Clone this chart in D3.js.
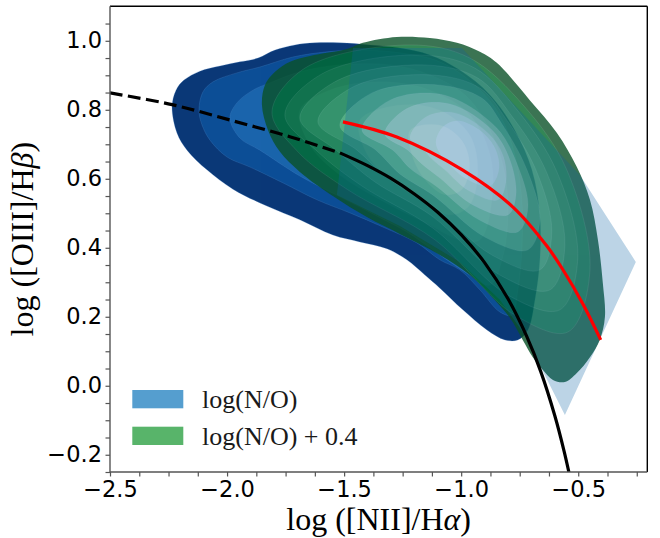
<!DOCTYPE html>
<html><head><meta charset="utf-8">
<script src="https://cdn.jsdelivr.net/npm/d3@7"></script>
<style>
html,body{margin:0;padding:0;background:#fff;}
svg{display:block;}
</style></head>
<body><svg id="chart" width="660" height="538"></svg>
<script>
// ---------- data ----------
const xTicks = [-2.5, -2.0, -1.5, -1.0, -0.5];
const xTickLabels = ["\u22122.5", "\u22122.0", "\u22121.5", "\u22121.0", "\u22120.5"];
const yTicks = [-0.2, 0.0, 0.2, 0.4, 0.6, 0.8, 1.0];
const yTickLabels = ["\u22120.2", "0.0", "0.2", "0.4", "0.6", "0.8", "1.0"];
const xMinor = [-2.375, -2.25, -2.125, -1.875, -1.75, -1.625, -1.375, -1.25, -1.125, -0.875, -0.75, -0.625, -0.375, -0.25];
const yMinor = [-0.25, -0.15, -0.1, -0.05, 0.05, 0.1, 0.15, 0.25, 0.3, 0.35, 0.45, 0.5, 0.55, 0.65, 0.7, 0.75, 0.85, 0.9, 0.95, 1.05];
const xDomain = [-2.5, -0.205];
const yDomain = [-0.25, 1.1];

const legendLabels = ["log(N/O)", "log(N/O) + 0.4"];

// demarcation curve (dashed part and solid part)
const demarcDashX = [-2.5, -2.235, -1.975, -1.732, -1.518];
const demarcDashY = [0.849, 0.815, 0.768, 0.722, 0.675];
const demarcSolidX = [-1.518, -1.40, -1.30, -1.20, -1.10, -1.00, -0.90, -0.80, -0.72, -0.66, -0.60, -0.56, -0.527];
const demarcSolidY = [0.675, 0.638, 0.601, 0.556, 0.503, 0.438, 0.357, 0.252, 0.143, 0.041, -0.087, -0.191, -0.291];

// red model track
const trackX = [-1.505, -1.275, -0.993, -0.779, -0.634, -0.566, -0.480, -0.404];
const trackY = [0.765, 0.721, 0.625, 0.518, 0.405, 0.337, 0.237, 0.133];

// density contours of log(N/O) (outer -> inner)
const blueLevels = [
  [[-2.235,0.808],[-2.218,0.857],[-2.184,0.886],[-2.116,0.912],[-2.030,0.927],[-1.945,0.939],[-1.868,0.950],[-1.795,0.973],[-1.710,0.988],[-1.625,0.994],[-1.518,0.994],[-1.390,0.988],[-1.262,0.979],[-1.134,0.959],[-1.006,0.915],[-0.877,0.843],[-0.771,0.741],[-0.698,0.626],[-0.664,0.495],[-0.664,0.365],[-0.685,0.249],[-0.715,0.162],[-0.758,0.133],[-0.813,0.133],[-0.890,0.162],[-0.993,0.220],[-1.091,0.283],[-1.155,0.321],[-1.232,0.365],[-1.317,0.397],[-1.433,0.417],[-1.548,0.437],[-1.689,0.481],[-1.830,0.521],[-1.975,0.570],[-2.086,0.626],[-2.171,0.683],[-2.214,0.733]],
  [[-2.120,0.799],[-2.103,0.852],[-2.060,0.881],[-1.958,0.907],[-1.860,0.924],[-1.719,0.953],[-1.573,0.968],[-1.433,0.973],[-1.262,0.965],[-1.091,0.939],[-0.942,0.872],[-0.835,0.785],[-0.771,0.669],[-0.741,0.539],[-0.741,0.394],[-0.758,0.278],[-0.784,0.205],[-0.835,0.214],[-0.920,0.278],[-1.006,0.336],[-1.091,0.365],[-1.189,0.414],[-1.334,0.460],[-1.475,0.501],[-1.616,0.539],[-1.761,0.588],[-1.902,0.634],[-2.000,0.663],[-2.073,0.712],[-2.107,0.756]],
  [[-1.988,0.776],[-1.958,0.820],[-1.889,0.857],[-1.817,0.878],[-1.689,0.910],[-1.518,0.930],[-1.304,0.930],[-1.134,0.901],[-0.984,0.843],[-0.877,0.741],[-0.813,0.611],[-0.801,0.481],[-0.826,0.365],[-0.877,0.292],[-0.963,0.321],[-1.048,0.359],[-1.121,0.394],[-1.232,0.446],[-1.334,0.483],[-1.475,0.533],[-1.689,0.608],[-1.860,0.683],[-1.945,0.718]],
  [[-1.689,0.799],[-1.561,0.857],[-1.347,0.881],[-1.134,0.857],[-0.963,0.785],[-0.877,0.669],[-0.869,0.539],[-0.920,0.423],[-1.006,0.423],[-1.134,0.466],[-1.304,0.524],[-1.518,0.611],[-1.646,0.698]],
  [[-1.433,0.770],[-1.262,0.814],[-1.091,0.799],[-0.963,0.727],[-0.929,0.626],[-0.963,0.524],[-1.048,0.495],[-1.176,0.539],[-1.326,0.611],[-1.411,0.683]],
  [[-1.219,0.741],[-1.091,0.756],[-0.997,0.712],[-0.963,0.640],[-0.997,0.568],[-1.070,0.553],[-1.155,0.597],[-1.211,0.669]]
];

// density contours of log(N/O) + 0.4 (outer -> inner)
const greenLevels = [
  [[-1.851,0.814],[-1.838,0.872],[-1.795,0.910],[-1.731,0.939],[-1.646,0.956],[-1.488,0.976],[-1.420,0.994],[-1.275,1.011],[-1.134,1.008],[-1.018,0.994],[-0.920,0.968],[-0.848,0.936],[-0.707,0.828],[-0.591,0.733],[-0.506,0.634],[-0.450,0.539],[-0.416,0.423],[-0.395,0.298],[-0.386,0.199],[-0.408,0.133],[-0.450,0.083],[-0.506,0.037],[-0.557,0.011],[-0.608,0.017],[-0.651,0.046],[-0.694,0.083],[-0.737,0.133],[-0.792,0.197],[-0.877,0.263],[-0.963,0.321],[-1.091,0.379],[-1.262,0.440],[-1.403,0.489],[-1.548,0.550],[-1.689,0.620],[-1.774,0.678],[-1.825,0.741]],
  [[-1.808,0.794],[-1.667,0.921],[-1.219,0.988],[-0.963,0.950],[-0.732,0.811],[-0.549,0.626],[-0.450,0.336],[-0.544,0.156],[-0.771,0.205],[-1.112,0.423],[-1.484,0.568],[-1.697,0.678]],
  [[-1.753,0.785],[-1.595,0.904],[-1.185,0.959],[-0.942,0.921],[-0.758,0.797],[-0.591,0.620],[-0.502,0.370],[-0.579,0.220],[-0.801,0.263],[-1.121,0.457],[-1.424,0.579],[-1.612,0.678]],
  [[-1.689,0.776],[-1.526,0.886],[-1.155,0.930],[-0.929,0.892],[-0.784,0.782],[-0.634,0.617],[-0.557,0.408],[-0.621,0.278],[-0.835,0.321],[-1.125,0.492],[-1.369,0.591],[-1.531,0.681]],
  [[-1.612,0.765],[-1.454,0.869],[-1.125,0.901],[-0.920,0.863],[-0.805,0.770],[-0.677,0.620],[-0.613,0.446],[-0.664,0.336],[-0.869,0.379],[-1.125,0.524],[-1.313,0.602],[-1.445,0.683]],
  [[-1.518,0.753],[-1.381,0.849],[-1.100,0.872],[-0.912,0.834],[-0.826,0.759],[-0.719,0.626],[-0.664,0.481],[-0.715,0.394],[-0.899,0.431],[-1.121,0.553],[-1.262,0.614],[-1.364,0.683]],
  [[-1.424,0.741],[-1.304,0.828],[-1.074,0.843],[-0.848,0.747],[-0.758,0.637],[-0.715,0.518],[-0.758,0.446],[-0.924,0.481],[-1.108,0.579],[-1.215,0.628],[-1.292,0.683]],
  [[-1.326,0.730],[-1.228,0.805],[-1.048,0.817],[-0.865,0.739],[-0.792,0.655],[-0.766,0.553],[-0.801,0.495],[-0.950,0.524],[-1.091,0.602],[-1.168,0.643],[-1.228,0.683]],
  [[-1.219,0.718],[-1.151,0.779],[-1.027,0.791],[-0.886,0.733],[-0.822,0.669],[-0.809,0.591],[-0.843,0.539],[-0.967,0.565],[-1.070,0.626],[-1.125,0.657],[-1.164,0.686]],
  [[-1.108,0.707],[-1.078,0.750],[-1.014,0.768],[-0.912,0.736],[-0.852,0.683],[-0.839,0.626],[-0.877,0.579],[-0.984,0.602],[-1.048,0.640],[-1.087,0.669]]
];

// model grid hull (translucent)
const gridHull = [[-1.462,0.979],[-0.997,0.979],[-0.493,0.611],[-0.254,0.359],[-0.557,-0.085],[-0.643,0.031],[-0.728,0.147],[-0.835,0.249],[-1.006,0.359],[-1.262,0.463],[-1.531,0.553]];

// ---------- styles ----------
const blueColors = ["#0a3877", "#0c4e96", "#1a64ac", "#3080c0", "#5f9fd3", "#a5c9e8"];
const greenColors = ["#0a5228", "#00692c", "#0f7637", "#238746", "#379858", "#5fb973", "#91d296", "#bfe5bb", "#dcf0d7", "#f0f8f0"];
const hullColor = "#1065a6";
const legendColors = ["#559ecf", "#58b46a"];

// ---------- drawing ----------
const svg = d3.select("#chart");
const L = 110, R = 647.3, T = 6.3, B = 472;
const x = d3.scaleLinear().domain(xDomain).range([L, R]);
const y = d3.scaleLinear().domain(yDomain).range([B, T]);

svg.append("defs").append("clipPath").attr("id", "clip")
  .append("rect").attr("x", L).attr("y", T).attr("width", R - L).attr("height", B - T);

const plot = svg.append("g").attr("clip-path", "url(#clip)");
const smooth = d3.line().x(d => x(d[0])).y(d => y(d[1])).curve(d3.curveCatmullRomClosed.alpha(0.5));
const straight = d3.line().x(d => x(d[0])).y(d => y(d[1])).curve(d3.curveLinearClosed);
const open = d3.line().x(d => x(d[0])).y(d => y(d[1])).curve(d3.curveCatmullRom.alpha(0.5));

plot.append("g").selectAll("path").data(blueLevels).join("path")
  .attr("d", smooth).attr("fill", (d, i) => blueColors[i])
  .attr("stroke", "#5a8fd0").attr("stroke-width", 0.4).attr("stroke-opacity", 0.6);

plot.append("g").attr("opacity", 0.8).selectAll("path").data(greenLevels).join("path")
  .attr("d", smooth).attr("fill", (d, i) => greenColors[i])
  .attr("stroke", "#ffffff").attr("stroke-width", 0.4).attr("stroke-opacity", (d, i) => i === 0 ? 0 : 0.25);

plot.append("g").attr("opacity", 0.28).append("path")
  .attr("d", straight(gridHull)).attr("fill", hullColor);

const dashPts = demarcDashX.map((v, i) => [v, demarcDashY[i]]);
const solidPts = demarcSolidX.map((v, i) => [v, demarcSolidY[i]]);
const trackPts = trackX.map((v, i) => [v, trackY[i]]);

plot.append("path").attr("d", open(dashPts)).attr("fill", "none")
  .attr("stroke", "#000").attr("stroke-width", 3.2).attr("stroke-dasharray", "12.8,5.5");
plot.append("path").attr("d", open(solidPts)).attr("fill", "none")
  .attr("stroke", "#000").attr("stroke-width", 3.2);
plot.append("path").attr("d", open(trackPts)).attr("fill", "none")
  .attr("stroke", "#ff0000").attr("stroke-width", 3.2);

// axes
const tickColor = "#555";
const xAxis = d3.axisBottom(x).tickValues(xTicks).tickFormat((d, i) => xTickLabels[i]).tickSize(4.5).tickPadding(5).tickSizeOuter(0);
const xAxisMinor = d3.axisBottom(x).tickValues(xMinor).tickFormat("").tickSize(4.5).tickSizeOuter(0);
const yAxis = d3.axisLeft(y).tickValues(yTicks).tickFormat((d, i) => yTickLabels[i]).tickSize(4.5).tickPadding(3.5).tickSizeOuter(0);
const yAxisMinor = d3.axisLeft(y).tickValues(yMinor).tickFormat("").tickSize(4.5).tickSizeOuter(0);

function styleAxis(g) {
  g.select(".domain").remove();
  g.selectAll("line").attr("stroke", tickColor).attr("stroke-width", 1.2);
  g.selectAll("text").attr("fill", "#000").style("font-family", "'DejaVu Sans', sans-serif").style("font-size", "22.5px");
}
svg.append("g").attr("transform", `translate(0,${B})`).call(xAxisMinor).call(styleAxis);
svg.append("g").attr("transform", `translate(0,${B})`).call(xAxis).call(styleAxis);
svg.append("g").attr("transform", `translate(${L},0)`).call(yAxisMinor).call(styleAxis);
svg.append("g").attr("transform", `translate(${L},0)`).call(yAxis).call(styleAxis);

// spines
svg.append("line").attr("x1", L).attr("x2", R).attr("y1", T).attr("y2", T).attr("stroke", "#000").attr("stroke-width", 1.4);
svg.append("line").attr("x1", R).attr("x2", R).attr("y1", T).attr("y2", B).attr("stroke", "#000").attr("stroke-width", 1.4);
svg.append("line").attr("x1", L).attr("x2", L).attr("y1", T).attr("y2", B).attr("stroke", tickColor).attr("stroke-width", 1.4);
svg.append("line").attr("x1", L).attr("x2", R).attr("y1", B).attr("y2", B).attr("stroke", tickColor).attr("stroke-width", 1.4);

// axis labels
const serif = "'Liberation Serif', 'Times New Roman', serif";
const xl = svg.append("text").attr("x", (L + R) / 2).attr("y", 530).attr("text-anchor", "middle")
  .style("font-family", serif).style("font-size", "32px").attr("fill", "#000");
xl.append("tspan").text("log ([NII]/H");
xl.append("tspan").style("font-style", "italic").text("\u03b1");
xl.append("tspan").text(")");

const yl = svg.append("text").attr("transform", `translate(33,${(T + B) / 2}) rotate(-90)`).attr("text-anchor", "middle")
  .style("font-family", serif).style("font-size", "32px").attr("fill", "#000");
yl.append("tspan").text("log ([OIII]/H");
yl.append("tspan").style("font-style", "italic").text("\u03b2");
yl.append("tspan").text(")");

// legend
const leg = svg.append("g");
legendLabels.forEach((lab, i) => {
  const yy = 390 + i * 36.7;
  leg.append("rect").attr("x", 132.3).attr("y", yy).attr("width", 51).attr("height", 18.3).attr("fill", legendColors[i]);
  leg.append("text").attr("x", 202).attr("y", yy + 18).style("font-family", serif).style("font-size", "26px")
    .attr("fill", "#1a1a1a").text(lab);
});
</script>
</body></html>
